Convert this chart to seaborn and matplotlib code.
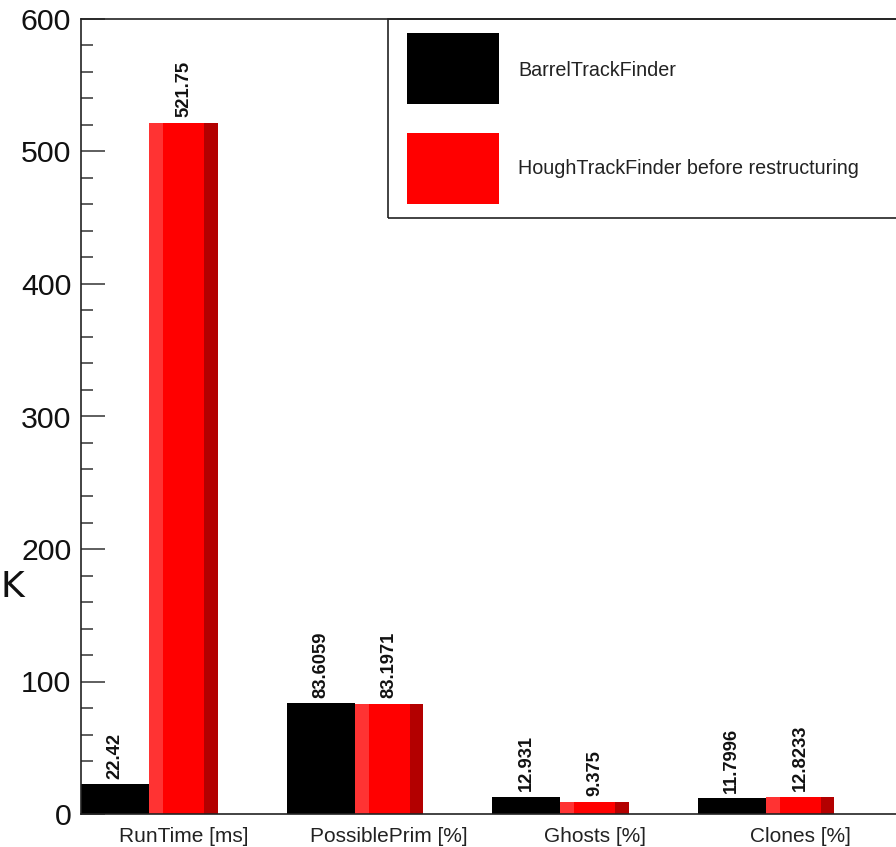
import matplotlib
matplotlib.use("Agg")
import matplotlib.pyplot as plt
from matplotlib.patches import Rectangle
from matplotlib.ticker import MultipleLocator
import pandas as pd
import seaborn as sns

# ---- data -------------------------------------------------------------
categories = ["RunTime [ms]", "PossiblePrim [%]", "Ghosts [%]", "Clones [%]"]
series_names = ["BarrelTrackFinder", "HoughTrackFinder before restructuring"]
barrel_values = [22.42, 83.6059, 12.931, 11.7996]
hough_values = [521.75, 83.1971, 9.375, 12.8233]
series_colors = ["#000000", "#ff0000"]
y_ticks = [0, 100, 200, 300, 400, 500, 600]

df = pd.DataFrame({
    "metric": categories * 2,
    "finder": [series_names[0]] * len(categories) + [series_names[1]] * len(categories),
    "value": barrel_values + hough_values,
})

# ---- figure -----------------------------------------------------------
sns.set_theme(style="white")
plt.rcParams["font.family"] = ["Liberation Sans", "DejaVu Sans"]

W, H = 896, 847
fig = plt.figure(figsize=(W / 100, H / 100), dpi=100)
ax_left, ax_right, ax_top, ax_bottom = 81, 903, 19, 814
ax = fig.add_axes([ax_left / W, 1 - ax_bottom / H,
                   (ax_right - ax_left) / W, (ax_bottom - ax_top) / H])

sns.barplot(data=df, x="metric", y="value", hue="finder", order=categories,
            hue_order=series_names, palette=series_colors, width=0.666,
            saturation=1, linewidth=0, legend=False, ax=ax)

# bevelled bar style: lighter left fifth, darker right fifth
light = {"#ff0000": "#ff3333", "#000000": "#000000"}
dark = {"#ff0000": "#b30000", "#000000": "#000000"}
for cont, col in zip(ax.containers, series_colors):
    for p in cont.patches:
        x0, w, h = p.get_x(), p.get_width(), p.get_height()
        ax.add_patch(Rectangle((x0, 0), 0.2 * w, h, color=light[col], lw=0, zorder=p.get_zorder() + 0.1))
        ax.add_patch(Rectangle((x0 + 0.8 * w, 0), 0.2 * w, h, color=dark[col], lw=0, zorder=p.get_zorder() + 0.1))

# value labels
for cont, vals in zip(ax.containers, [barrel_values, hough_values]):
    ax.bar_label(cont, labels=[f"{v:g}" for v in vals], rotation=90, padding=4,
                 fontsize=13.2, fontweight="bold", color="#111111")

# axes
bar_w = 0.333
ax.set_xlim(-bar_w, len(categories) - bar_w)
ax.set_ylim(0, 600)
ax.set_xticks([i + 0.5 - bar_w for i in range(len(categories))])
ax.set_xticklabels(categories, fontsize=15, color="#222222")
ax.set_yticks(y_ticks)
ax.set_yticklabels([str(t) for t in y_ticks], fontsize=21.8, color="#111111")
ax.yaxis.set_minor_locator(MultipleLocator(20))
ax.tick_params(axis="x", length=0, pad=9.5)
ax.tick_params(axis="y", which="major", direction="in", length=17.5, width=1.1,
               color="#333333", pad=7, left=True)
ax.tick_params(axis="y", which="minor", direction="in", length=8.5, width=1.1,
               color="#333333", left=True)
ax.set_xlabel("")
ax.set_ylabel("")
for s in ax.spines.values():
    s.set_visible(True)
    s.set_color("#222222")
    s.set_linewidth(1.2)

# legend box
def fx(px):
    return px / W


def fy(py):
    return 1 - py / H


fig.add_artist(Rectangle((fx(388), fy(218)), fx(903) - fx(388), fy(19) - fy(218),
                         transform=fig.transFigure, fill=False, lw=1.2,
                         edgecolor="#222222"))
for (top, bot, mid), name, col in zip([(33, 104, 70), (133, 204, 168)], series_names, series_colors):
    fig.add_artist(Rectangle((fx(407), fy(bot)), fx(499) - fx(407), fy(top) - fy(bot),
                             transform=fig.transFigure, color=col, lw=0))
    fig.text(fx(518), fy(mid), name, fontsize=14.2, color="#222222",
             ha="left", va="center")

# side glyph at the left margin
fig.text(fx(0), fy(587), "K", fontsize=26, family="DejaVu Sans",
         ha="left", va="center", color="#111111")

fig.savefig("out.png", dpi=100)
